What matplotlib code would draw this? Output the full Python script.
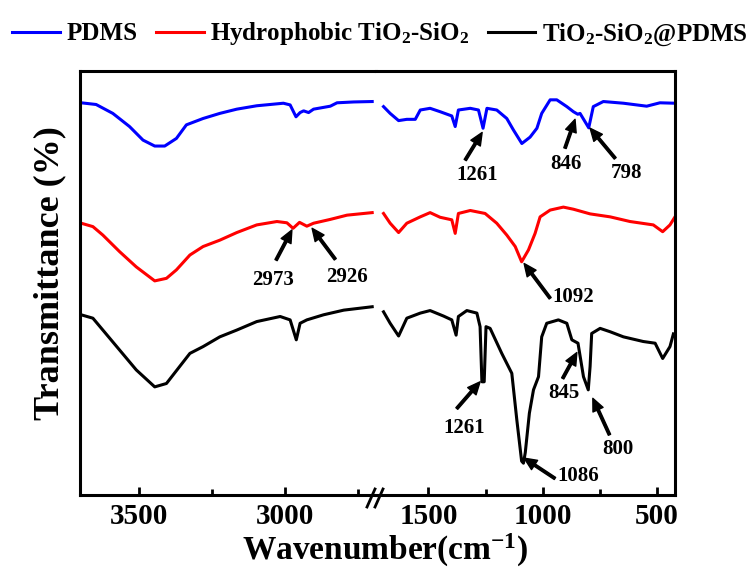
import matplotlib
matplotlib.use('Agg')
import matplotlib.pyplot as plt
from matplotlib.lines import Line2D

plt.rcParams['font.family'] = ['Liberation Serif', 'DejaVu Serif']
plt.rcParams['font.weight'] = 'bold'
plt.rcParams['mathtext.fontset'] = 'custom'
plt.rcParams['mathtext.rm'] = 'Liberation Serif:bold'
plt.rcParams['mathtext.bf'] = 'Liberation Serif:bold'
plt.rcParams['mathtext.it'] = 'Liberation Serif:bold:italic'
plt.rcParams['mathtext.default'] = 'rm'

# ---- data (transmittance in arbitrary units, stacked) ----
pdms_wn_hi = [3696, 3645, 3588, 3531, 3485, 3445, 3411, 3371, 3337, 3280, 3223, 3165,
              3097, 3006, 2983, 2963, 2949, 2937, 2920, 2903, 2846, 2823, 2766, 2703]
pdms_hi = [92.5, 92.1, 90.0, 86.9, 83.7, 82.3, 82.3, 84.1, 87.3, 88.8, 90.0, 91.0,
           91.8, 92.4, 92.0, 89.2, 90.2, 90.6, 90.2, 91.0, 91.7, 92.5, 92.7, 92.8]
pdms_wn_lo = [1697, 1668, 1631, 1595, 1558, 1536, 1493, 1449, 1398, 1383, 1369, 1317,
              1281, 1261, 1244, 1201, 1157, 1128, 1091, 1055, 1025, 1004, 967, 938,
              894, 865, 846, 836, 798, 778, 734, 646, 544, 486, 420]
pdms_lo = [91.6, 90.0, 88.3, 88.6, 88.6, 90.8, 91.2, 90.4, 89.4, 86.9, 90.8, 91.2,
           90.8, 86.5, 91.2, 90.8, 88.8, 86.1, 82.9, 84.4, 86.5, 90.0, 93.2, 93.2,
           91.6, 90.4, 89.8, 90.0, 86.6, 91.6, 92.8, 92.4, 91.7, 92.5, 92.4]

hyd_wn_hi = [3696, 3656, 3622, 3565, 3508, 3445, 3405, 3371, 3325, 3280, 3223, 3165,
             3097, 3028, 2994, 2973, 2951, 2926, 2903, 2846, 2789, 2703]
hyd_hi = [64.1, 63.3, 61.3, 57.4, 53.8, 50.5, 51.1, 53.1, 56.6, 58.6, 60.1, 61.9,
          63.7, 64.5, 64.2, 62.9, 64.3, 63.4, 64.1, 65.0, 66.0, 66.6]
hyd_wn_lo = [1697, 1668, 1631, 1595, 1536, 1493, 1449, 1398, 1383, 1369, 1317, 1252,
             1201, 1157, 1120, 1092, 1062, 1033, 1011, 967, 909, 865, 792, 704,
             617, 515, 474, 442, 420]
hyd_lo = [66.4, 64.1, 61.9, 64.1, 65.6, 66.6, 65.5, 64.9, 61.7, 66.4, 67.1, 66.4,
          64.1, 61.3, 58.6, 55.0, 57.8, 61.7, 65.6, 67.2, 67.9, 67.4, 66.3, 65.6,
          64.5, 63.7, 62.1, 63.7, 65.6]

comp_wn_hi = [3696, 3656, 3622, 3565, 3508, 3445, 3405, 3360, 3325, 3280, 3223, 3165,
              3097, 3017, 2983, 2962, 2949, 2926, 2869, 2800, 2703]
comp_hi = [42.5, 41.7, 38.9, 34.2, 29.5, 25.5, 26.3, 30.3, 33.4, 35.0, 37.3, 38.9,
           40.9, 42.1, 41.3, 36.6, 40.5, 41.3, 42.5, 43.6, 44.4]
comp_wn_lo = [1697, 1668, 1631, 1595, 1536, 1493, 1434, 1398, 1379, 1369, 1332, 1288,
              1274, 1266, 1256, 1248, 1230, 1179, 1135, 1113, 1092, 1084, 1076, 1058,
              1040, 1018, 1004, 982, 931, 894, 872, 845, 821, 800, 792, 785,
              748, 704, 646, 559, 507, 474, 442, 427]
comp_lo = [43.2, 40.5, 37.5, 41.7, 42.9, 43.5, 42.2, 41.3, 37.7, 42.1, 43.5, 42.9,
           39.7, 26.7, 26.7, 39.7, 39.3, 33.4, 28.7, 17.7, 8.0, 7.5, 10.0, 19.3,
           24.8, 27.9, 37.3, 40.5, 41.3, 40.5, 36.6, 35.8, 27.9, 24.8, 30.3, 38.1,
           39.3, 38.5, 37.3, 36.2, 35.8, 32.2, 35.0, 38.0]

labels = ['PDMS', r'Hydrophobic TiO$_2$-SiO$_2$', r'TiO$_2$-SiO$_2$@PDMS']
colors = ['#0000ff', '#ff0000', '#000000']

fig = plt.figure(figsize=(7.52, 5.70), dpi=100)
ax1 = fig.add_axes([80/752, 1-495/570, 296/752, 424/570])
ax2 = fig.add_axes([376/752, 1-495/570, 299/752, 424/570])

series_hi = [(pdms_wn_hi, pdms_hi), (hyd_wn_hi, hyd_hi), (comp_wn_hi, comp_hi)]
series_lo = [(pdms_wn_lo, pdms_lo), (hyd_wn_lo, hyd_lo), (comp_wn_lo, comp_lo)]
handles = []
for (x, y), c, lab in zip(series_hi, colors, labels):
    h, = ax1.plot(x, y, color=c, lw=2.2, label=lab)
    handles.append(h)
for (x, y), c in zip(series_lo, colors):
    ax2.plot(x, y, color=c, lw=2.2)

ax1.set_xlim(3700, 2690)
ax2.set_xlim(1730, 420)
for ax in (ax1, ax2):
    ax.set_ylim(0, 100)
    ax.set_yticks([])
    for s in ax.spines.values():
        s.set_linewidth(2.2)
    ax.tick_params(axis='x', which='both', direction='in', width=2, labelsize=21,
                   pad=6, top=False)
    ax.tick_params(axis='x', which='major', length=6)
    ax.tick_params(axis='x', which='minor', length=4)
ax1.spines['right'].set_visible(False)
ax2.spines['left'].set_visible(False)
ax1.set_xticks([3500, 3000])
ax1.set_xticks([3250, 2750], minor=True)
ax2.set_xticks([1500, 1000, 500])
ax2.set_xticks([1250, 750], minor=True)

# axis break marks
for dx in (-5, 3):
    x0 = (376 + dx) / 752
    fig.add_artist(Line2D([x0 - 4/752, x0 + 4/752], [1-507/570, 1-489/570],
                          color='k', lw=2, transform=fig.transFigure))

# peak annotations: (axis, label, tip, tail, text position, ha)
arrow_kw = dict(facecolor='black', edgecolor='black', width=1.8, headwidth=8,
                headlength=9, shrink=0)
notes = [
    (ax2, '1261', (1265, 85.5), (1339, 79.0), (1288, 75.5), 'center'),
    (ax2, '846', (858, 88.6), (902, 81.8), (897, 78.1), 'center'),
    (ax2, '798', (792, 86.5), (682, 79.4), (631, 76.0), 'center'),
    (ax1, '2973', (2977, 62.5), (3031, 55.4), (3042, 50.7), 'center'),
    (ax1, '2926', (2908, 62.9), (2829, 55.6), (2789, 51.3), 'center'),
    (ax2, '1092', (1081, 54.6), (967, 46.4), (958, 46.7), 'left'),
    (ax2, '1261', (1274, 26.7), (1376, 20.4), (1345, 15.7), 'center'),
    (ax2, '845', (850, 33.6), (912, 27.5), (906, 24.0), 'center'),
    (ax2, '800', (780, 22.8), (707, 14.2), (672, 10.8), 'center'),
    (ax2, '1086', (1081, 8.7), (946, 3.9), (937, 4.5), 'left'),
]
for ax, txt, tip, tail, pos, ha in notes:
    ax.annotate('', xy=tip, xytext=tail, arrowprops=arrow_kw, annotation_clip=False)
    ax.text(pos[0], pos[1], txt, fontsize=15, fontweight='bold', ha=ha, va='center')

fig.text(50/752, 1-273/570, 'Transmittance (%)', rotation=90, fontsize=26,
         fontweight='bold', ha='center', va='center')
fig.text(385/752, 1-550/570, r'Wavenumber(cm$^{-1}$)', fontsize=24,
         fontweight='bold', ha='center', va='center')

fig.legend(handles, labels, loc='center', bbox_to_anchor=(380/752, 1-34/570), ncol=3,
           frameon=False, fontsize=18, handlelength=1.9, handletextpad=0.25,
           columnspacing=0.75, borderaxespad=0, borderpad=0)

fig.savefig('out.png', dpi=100)
